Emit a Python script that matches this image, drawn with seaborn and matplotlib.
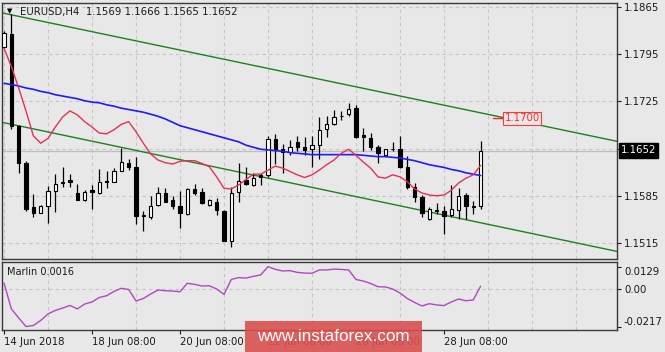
import numpy as np
import matplotlib
matplotlib.use("Agg")
import matplotlib.pyplot as plt
import seaborn as sns
from matplotlib.patches import Rectangle

# ---------------- data ----------------
title = "EURUSD,H4  1.1569 1.1666 1.1565 1.1652"
opens = [1.1806, 1.1825, 1.1688, 1.1634, 1.1568, 1.1560, 1.1569, 1.1592, 1.1604, 1.1608,
         1.1589, 1.1579, 1.1593, 1.1589, 1.1607, 1.1606, 1.1622, 1.1634, 1.1628, 1.1556,
         1.1554, 1.1571, 1.1589, 1.1578, 1.1570, 1.1558, 1.1595, 1.1590, 1.1571, 1.1576,
         1.1563, 1.1517, 1.1590, 1.1608, 1.1601, 1.1616, 1.1616, 1.1669, 1.1655, 1.1650,
         1.1665, 1.1657, 1.1654, 1.1660, 1.1684, 1.1691, 1.1703, 1.1706, 1.1715, 1.1675,
         1.1670, 1.1658, 1.1645, 1.1654, 1.1655, 1.1627, 1.1598, 1.1583, 1.1551, 1.1564,
         1.1563, 1.1556, 1.1564, 1.1586, 1.1568, 1.1569]
highs = [1.1830, 1.1855, 1.1690, 1.1636, 1.1587, 1.1571, 1.1599, 1.1617, 1.1627, 1.1617,
         1.1602, 1.1593, 1.1601, 1.1624, 1.1621, 1.1626, 1.1656, 1.1639, 1.1643, 1.1563,
         1.1585, 1.1598, 1.1597, 1.1584, 1.1592, 1.1596, 1.1602, 1.1596, 1.1580, 1.1581,
         1.1564, 1.1598, 1.1634, 1.1628, 1.1618, 1.1618, 1.1674, 1.1677, 1.1662, 1.1668,
         1.1674, 1.1672, 1.1673, 1.1702, 1.1703, 1.1713, 1.1711, 1.1722, 1.1720, 1.1685,
         1.1678, 1.1660, 1.1655, 1.1665, 1.1674, 1.1644, 1.1604, 1.1586, 1.1568, 1.1574,
         1.1569, 1.1601, 1.1597, 1.1589, 1.1577, 1.1666]
lows = [1.1804, 1.1684, 1.1619, 1.1563, 1.1554, 1.1559, 1.1544, 1.1561, 1.1598, 1.1598,
        1.1578, 1.1577, 1.1566, 1.1588, 1.1596, 1.1605, 1.1621, 1.1623, 1.1543, 1.1532,
        1.1550, 1.1569, 1.1575, 1.1566, 1.1537, 1.1557, 1.1586, 1.1573, 1.1569, 1.1556,
        1.1517, 1.1509, 1.1575, 1.1601, 1.1600, 1.1601, 1.1613, 1.1632, 1.1618, 1.1645,
        1.1652, 1.1645, 1.1628, 1.1639, 1.1672, 1.1690, 1.1697, 1.1703, 1.1670, 1.1652,
        1.1653, 1.1634, 1.1644, 1.1652, 1.1626, 1.1595, 1.1575, 1.1554, 1.1549, 1.1558,
        1.1528, 1.1554, 1.1550, 1.1551, 1.1558, 1.1565]
closes = [1.1827, 1.1688, 1.1634, 1.1566, 1.1559, 1.1570, 1.1592, 1.1603, 1.1606, 1.1605,
          1.1579, 1.1591, 1.1590, 1.1605, 1.1605, 1.1622, 1.1635, 1.1628, 1.1555, 1.1555,
          1.1570, 1.1589, 1.1576, 1.1569, 1.1559, 1.1595, 1.1589, 1.1574, 1.1578, 1.1564,
          1.1518, 1.1589, 1.1607, 1.1602, 1.1612, 1.1613, 1.1669, 1.1654, 1.1650, 1.1657,
          1.1658, 1.1653, 1.1660, 1.1682, 1.1691, 1.1702, 1.1704, 1.1714, 1.1672, 1.1672,
          1.1658, 1.1648, 1.1654, 1.1655, 1.1628, 1.1598, 1.1583, 1.1560, 1.1566, 1.1563,
          1.1555, 1.1566, 1.1584, 1.1569, 1.1570, 1.1652]
ma_fast = [1.1804, 1.1777, 1.1745, 1.1711, 1.1674, 1.1663, 1.1670, 1.1687, 1.1702, 1.1711,
           1.1705, 1.1695, 1.1687, 1.1678, 1.1677, 1.1683, 1.1691, 1.1695, 1.1680, 1.1663,
           1.1647, 1.1638, 1.1634, 1.1632, 1.1636, 1.1637, 1.1637, 1.1633, 1.1628, 1.1613,
           1.1596, 1.1595, 1.1601, 1.1609, 1.1617, 1.1617, 1.1623, 1.1629, 1.1626, 1.1621,
           1.1616, 1.1612, 1.1616, 1.1623, 1.1631, 1.1638, 1.1648, 1.1654, 1.1645, 1.1635,
           1.1626, 1.1613, 1.1611, 1.1616, 1.1613, 1.1606, 1.1595, 1.1589, 1.1586, 1.1585,
           1.1586, 1.1593, 1.1604, 1.1611, 1.1616, 1.1630]
ma_slow = [1.1752, 1.1750, 1.1748, 1.1745, 1.1743, 1.1740, 1.1738, 1.1735, 1.1733, 1.1731,
           1.1729, 1.1726, 1.1724, 1.1723, 1.1720, 1.1718, 1.1715, 1.1713, 1.1711, 1.1709,
           1.1706, 1.1703, 1.1699, 1.1694, 1.1689, 1.1686, 1.1683, 1.1680, 1.1677, 1.1674,
           1.1671, 1.1668, 1.1665, 1.1660, 1.1657, 1.1654, 1.1653, 1.1652, 1.1651, 1.1649,
           1.1648, 1.1647, 1.1646, 1.1646, 1.1646, 1.1646, 1.1646, 1.1646, 1.1646, 1.1645,
           1.1644, 1.1643, 1.1643, 1.1642, 1.1641, 1.1639, 1.1637, 1.1634, 1.1631, 1.1629,
           1.1627, 1.1624, 1.1622, 1.1619, 1.1617, 1.1615]
marlin = [0.0035, -0.0115, -0.0167, -0.0217, -0.0211, -0.0182, -0.0144, -0.0124, -0.0110, -0.0095,
          -0.0115, -0.0087, -0.0075, -0.0049, -0.0039, -0.0014, 0.0004, -0.0003, -0.0069, -0.0055,
          -0.0029, -0.0006, -0.0010, -0.0012, -0.0016, 0.0033, 0.0027, 0.0017, 0.0019, 0.0000,
          -0.0031, 0.0055, 0.0066, 0.0063, 0.0073, 0.0081, 0.0129, 0.0114, 0.0104, 0.0106,
          0.0096, 0.0092, 0.0091, 0.0110, 0.0110, 0.0115, 0.0113, 0.0110, 0.0055, 0.0046,
          0.0032, 0.0013, 0.0012, 0.0000, -0.0023, -0.0055, -0.0078, -0.0098, -0.0085, -0.0092,
          -0.0096, -0.0075, -0.0058, -0.0068, -0.0063, 0.0016]
date_labels = ["14 Jun 2018", "18 Jun 08:00", "20 Jun 08:00", "22 Jun 08:00",
               "26 Jun 08:00", "28 Jun 08:00"]
date_label_bars = [0, 12, 24, 36, 48, 60]
price_ticks = [1.1865, 1.1795, 1.1725, 1.1655, 1.1585, 1.1515]
price_tick_labels = ["1.1865", "1.1795", "1.1725", "", "1.1585", "1.1515"]
marlin_ticks = [0.0129, 0.0, -0.0217]
marlin_tick_labels = ["0.0129", "0.00", "-0.0217"]
channel_bars = [0, 83.77]
channel_upper = [1.18559, 1.16654]
channel_lower = [1.16934, 1.15019]
last_price = 1.1652
label_price = 1.1700
label_text = "1.1700"
marlin_label = "Marlin 0.0016"
watermark = "www.instaforex.com"

# ---------------- styling ----------------
sns.set_theme(style="white")
plt.rcParams['font.family'] = ['DejaVu Sans']

W, H = 665, 352
BG = '#e8e8e8'
TXT = '#1a1a1a'
FS = 7.3

fig = plt.figure(figsize=(W / 100, H / 100), dpi=100)
fig.patch.set_facecolor(BG)

def fx(px):
    return px / W

def fy(py):
    return 1 - py / H

ax = fig.add_axes([fx(2), fy(259), (617 - 2) / W, (259 - 3) / H])
ax2 = fig.add_axes([fx(2), fy(330), (617 - 2) / W, (330 - 262) / H])

idx = np.arange(len(closes))
xlim = (-0.273, 83.6)

for a in (ax, ax2):
    a.set_facecolor(BG)
    a.set_xlim(*xlim)
    for s in a.spines.values():
        s.set_color('#3a3a3a')
        s.set_linewidth(1.0)
    a.set_xticks(np.arange(0, 84, 6), minor=True)
    a.grid(which='minor', axis='x', linestyle=(0, (3, 3)), color='#c4c4c4', lw=0.8)
    a.tick_params(which='minor', length=0)
    a.yaxis.tick_right()
    a.set_axisbelow(True)

# ---- main panel ----
ax.set_ylim(1.14910, 1.18712)
ax.set_yticks(price_ticks)
ax.set_yticklabels(price_tick_labels)
ax.grid(which='major', axis='y', linestyle=(0, (3, 3)), color='#c4c4c4', lw=0.8)
ax.set_xticks([])
ax.tick_params(axis='y', direction='out', length=3, width=0.8, pad=2,
               labelsize=FS, colors=TXT)

# bid line
ax.axhline(last_price, color='#bdbdbd', lw=0.9, zorder=1)

# channel
ax.axline((channel_bars[0], channel_upper[0]), (channel_bars[1], channel_upper[1]),
          color='#1f7f1f', lw=1.0, zorder=2)
ax.axline((channel_bars[0], channel_lower[0]), (channel_bars[1], channel_lower[1]),
          color='#1f7f1f', lw=1.0, zorder=2)

# candles
o = np.array(opens); c = np.array(closes); h = np.array(highs); l = np.array(lows)
ax.vlines(idx, l, h, color='black', lw=0.9, zorder=3)
bottoms = np.minimum(o, c)
heights = np.abs(c - o)
colors = ['white' if cc >= oo else 'black' for oo, cc in zip(o, c)]
ax.bar(idx, heights, bottom=bottoms, width=0.48, color=colors, edgecolor='black',
       linewidth=0.8, zorder=4)

# moving averages
sns.lineplot(x=idx, y=ma_slow, ax=ax, color='#1c1cff', lw=1.2, estimator=None,
             sort=False, zorder=5)
sns.lineplot(x=idx, y=ma_fast, ax=ax, color='#e6305a', lw=1.0, estimator=None,
             sort=False, zorder=6)

# price label object
ax.plot([66.7, 68.1], [label_price, label_price], color='#ff2020', lw=1.0, zorder=7)
ax.text(68.25, label_price, label_text, color='#ff2a2a', fontsize=FS, va='center',
        ha='left', zorder=8,
        bbox=dict(boxstyle='square,pad=0.15', fc=BG, ec='#ff3a3a', lw=0.8))

# ---- sub panel ----
ax2.set_ylim(-0.0237, 0.0156)
ax2.axhline(0, linestyle=(0, (3, 3)), color='#c4c4c4', lw=0.8, zorder=0)
sns.lineplot(x=idx, y=marlin, ax=ax2, color='#b048c0', lw=1.0, estimator=None, sort=False)
ax2.set_yticks(marlin_ticks)
ax2.set_yticklabels(marlin_tick_labels)
ax2.tick_params(axis='y', direction='out', length=3, width=0.8, pad=2,
                labelsize=FS, colors=TXT)
yl = ax2.get_yticklabels()
yl[0].set_va('top')
yl[2].set_va('bottom')
ax2.set_xticks(date_label_bars)
ax2.set_xticklabels(date_labels)
ax2.tick_params(axis='x', direction='out', length=3, width=0.8, pad=2,
                labelsize=FS, colors=TXT, bottom=True)
for lab in ax2.get_xticklabels():
    lab.set_ha('left')
ax2.set_ylabel('')
ax.set_ylabel('')

# ---- texts ----
fig.text(fx(9.5), fy(11.3), '\u25BC', fontsize=5, ha='center', va='center', color='black')
fig.text(fx(20), fy(11.7), title, fontsize=FS, ha='left', va='center', color=TXT)
fig.text(fx(7), fy(272), marlin_label, fontsize=7.0, ha='left', va='center', color=TXT)
fig.text(fx(621), fy(150.5), f"{last_price:.4f}", fontsize=FS, ha='left', va='center',
         color='white', zorder=20,
         bbox=dict(boxstyle='square,pad=0.2', fc='black', ec='black'))

# watermark
fig.add_artist(Rectangle((fx(245), fy(352)), 177 / W, 31 / H, transform=fig.transFigure,
                         fc='#d9504f', ec='none', alpha=0.9, zorder=30))
fig.text(fx(333.5), fy(336.5), watermark, fontsize=12.3, family=['Liberation Sans'],
         color='white', ha='center', va='center', zorder=31)

fig.savefig('out.png', dpi=100, facecolor=BG)
